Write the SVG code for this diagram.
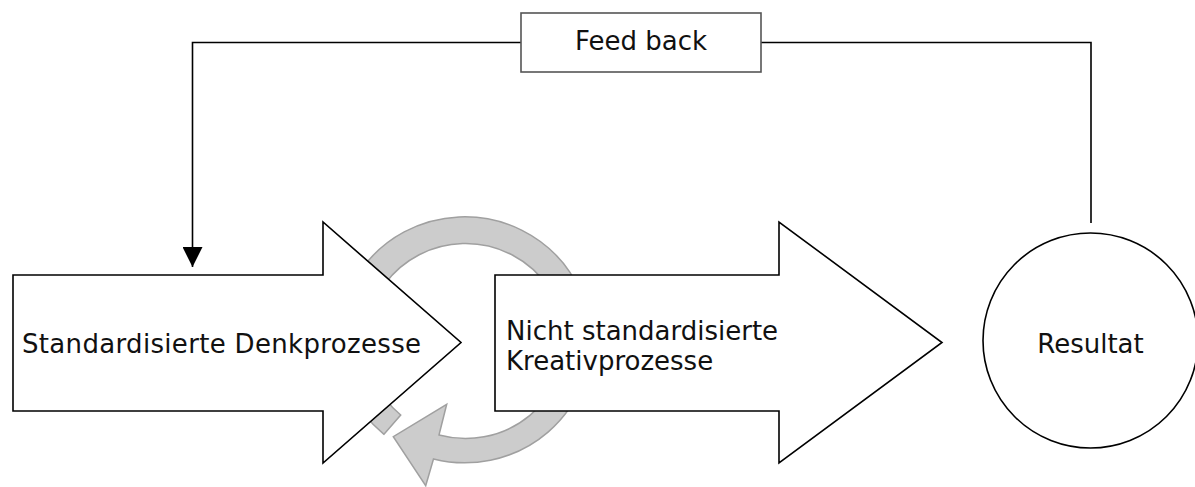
<svg xmlns="http://www.w3.org/2000/svg" width="1195" height="487" viewBox="0 0 1195 487">
<style>
  .shape { fill: #ffffff; stroke: #000000; stroke-width: 1.6; stroke-linejoin: miter; }
  .ring { fill: #cccccc; stroke: #a0a0a0; stroke-width: 1.5; stroke-linejoin: miter; }
  .lbl { font-family: "DejaVu Sans", Verdana, sans-serif; font-size: 26px; fill: #111111; }
  .conn { fill: none; stroke: #000000; stroke-width: 1.6; }
  .fbbox { fill: #ffffff; stroke: #555555; stroke-width: 1.6; }
</style>
<defs>
  <marker id="arrowhead" viewBox="0 0 20 20" refX="20" refY="10" markerWidth="20" markerHeight="20" markerUnits="userSpaceOnUse" orient="auto">
    <path d="M0,0 L20,10 L0,20 Z" fill="#000000"/>
  </marker>
</defs>
<rect width="1195" height="487" fill="#ffffff"/>

<g id="cycle">
  <path class="ring" d="M 384,434.3 A 126 123 0 1 1 433.5,459 L 425.7,485.7 L 393.3,436.7 L 446.7,404.3 L 439,435 A 99.5 97.5 0 1 0 400.7,415 Z"/>
</g>

<g id="connectors">
  <path class="conn" d="M 1091,223 L 1091,42.5 L 761,42.5"/>
  <path class="conn" d="M 521,42.5 L 192.5,42.5 L 192.5,267" marker-end="url(#arrowhead)"/>
</g>

<g id="feedback">
  <rect class="fbbox" x="521" y="13" width="240" height="59"/>
  <text class="lbl" x="641" y="50" text-anchor="middle">Feed back</text>
</g>

<g id="standard">
  <path class="shape" d="M 13,275 L 323,275 L 323,222 L 461,342.5 L 323,463 L 323,411 L 13,411 Z"/>
  <text class="lbl" x="22" y="352.5" textLength="399" lengthAdjust="spacing">Standardisierte Denkprozesse</text>
</g>

<g id="kreativ">
  <path class="shape" d="M 495,275 L 779,275 L 779,222 L 942,342.5 L 779,463 L 779,411 L 495,411 Z"/>
  <text class="lbl" x="506" y="340">Nicht standardisierte</text>
  <text class="lbl" x="506" y="370">Kreativprozesse</text>
</g>

<g id="resultat">
  <circle class="shape" cx="1090.5" cy="340.5" r="107.5"/>
  <text class="lbl" x="1090.5" y="353" text-anchor="middle">Resultat</text>
</g>
</svg>
